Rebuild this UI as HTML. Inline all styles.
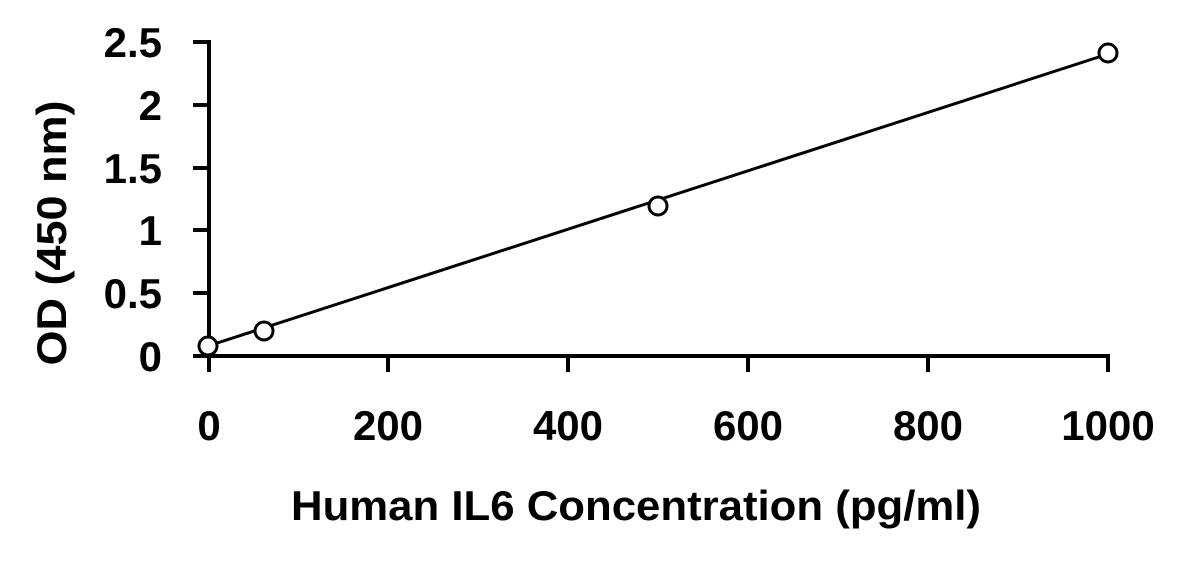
<!DOCTYPE html>
<html><head><style>body{margin:0;background:#fff}</style></head><body>
<svg width="1187" height="561" xmlns="http://www.w3.org/2000/svg" style="display:block">
<rect width="1187" height="561" fill="#fff"/>
<g stroke="#000" stroke-width="4" fill="none">
<line x1="209" y1="40" x2="209" y2="358"/>
<line x1="207" y1="356" x2="1110" y2="356"/>
<line x1="193" y1="42" x2="209" y2="42"/>
<line x1="193" y1="105" x2="209" y2="105"/>
<line x1="193" y1="168" x2="209" y2="168"/>
<line x1="193" y1="230" x2="209" y2="230"/>
<line x1="193" y1="293" x2="209" y2="293"/>
<line x1="193" y1="356" x2="209" y2="356"/>
<line x1="209" y1="356" x2="209" y2="372"/>
<line x1="388" y1="356" x2="388" y2="372"/>
<line x1="568" y1="356" x2="568" y2="372"/>
<line x1="748" y1="356" x2="748" y2="372"/>
<line x1="928" y1="356" x2="928" y2="372"/>
<line x1="1108" y1="356" x2="1108" y2="372"/>
</g>
<line x1="208" y1="346" x2="1108" y2="54" stroke="#000" stroke-width="3"/>
<g stroke="#000" stroke-width="3" fill="#fff">
<circle cx="208" cy="346" r="9"/>
<circle cx="264" cy="331" r="9"/>
<circle cx="658" cy="206" r="9"/>
<circle cx="1108" cy="53" r="9"/>
</g>
<g font-family="Liberation Sans, sans-serif" font-weight="bold" font-size="42" fill="#000">
<g text-anchor="end">
<text x="162" y="57">2.5</text>
<text x="162" y="120">2</text>
<text x="162" y="183">1.5</text>
<text x="162" y="245">1</text>
<text x="162" y="308">0.5</text>
<text x="162" y="371">0</text>
</g>
<g text-anchor="middle">
<text x="209" y="440">0</text>
<text x="388" y="440">200</text>
<text x="568" y="440">400</text>
<text x="748" y="440">600</text>
<text x="928" y="440">800</text>
<text x="1108" y="440">1000</text>
<text x="636" y="520" textLength="690" lengthAdjust="spacingAndGlyphs">Human IL6 Concentration (pg/ml)</text>
<text transform="translate(66,233) rotate(-90)" textLength="265" lengthAdjust="spacingAndGlyphs">OD (450 nm)</text>
</g>
</g>
</svg>
</body></html>
